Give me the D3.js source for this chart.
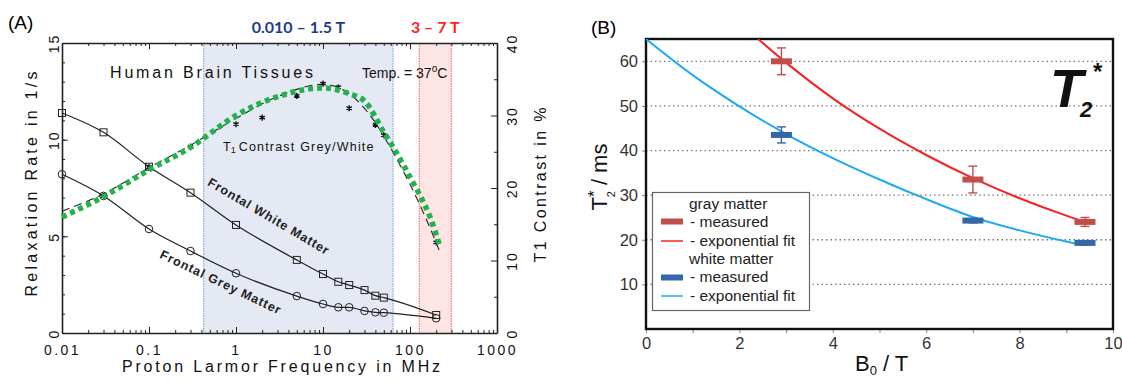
<!DOCTYPE html>
<html><head><meta charset="utf-8">
<script src="https://cdn.jsdelivr.net/npm/d3@7"></script>
<style>body{margin:0;background:#fff} svg{display:block}</style>
</head><body><svg id="c" width="1122" height="381"></svg>
<script>
// ---------- Panel A data ----------
const freqWM = [0.01,0.03,0.1,0.3,1,5,10,15,20,30,40,50,200];
const r1WM   = [11.38,10.38,8.6,7.26,5.59,3.78,3.05,2.65,2.48,2.22,1.93,1.83,0.93];
const freqGM = [0.01,0.03,0.1,0.3,1,5,10,15,20,30,40,50,200];
const r1GM   = [8.21,7.09,5.38,4.24,3.09,1.91,1.5,1.33,1.33,1.14,1.07,1.05,0.76];
const freqContrast = [0.03,0.1,0.3,1,2,5,10,15,20,40,50,200];
const contrastMeasured = [18.9,22.9,25.7,28.8,29.7,32.7,34.4,33.9,31.0,28.7,27.3,12.5];
const freqContrastFit = [0.01,0.03,0.1,0.3,1,3,10,20,40,60,100,150,220];
const contrastFit     = [16.8,19.2,22.8,25.9,29.6,32.6,34.3,33.0,29.0,25.5,20.5,16.0,11.2];
const freqContrastTrend = [0.01,0.03,0.1,0.3,1,3,10,20,30,50,65,100,130,170,220];
const contrastTrend     = [16.0,18.8,22.5,25.6,30.0,32.6,33.8,33.0,32.0,27.7,25.5,21.5,19.0,16.0,12.0];
const bandLowTesla  = [0.010, 1.5];
const bandHighTesla = [3, 7];
const larmorMHzPerTesla = 42.58;
const xTicksA = [0.01,0.1,1,10,100,1000];
const xTickLabelsA = ["0.01","0.1","1","10","100","1000"];
const yTicksA = [0,5,10,15];
const y2TicksA = [0,10,20,30,40];

// ---------- Panel B data ----------
const b0Measured = [2.9, 7.0, 9.4];
const gmMeasured = [60.0, 33.5, 24.0];
const gmError    = [3.0, 3.0, 1.0];
const wmMeasured = [43.5, 24.3, 19.3];
const wmError    = [1.8, 0.5, 0.5];
const b0FitGM = [2.4,3,4,5,6,7,8,9,9.4];
const gmFit   = [65,59.7,51.7,44.9,39.0,33.8,29.3,25.4,24.0];
const b0FitWM = [0,1,2,3,4,5,6,7,8,9,9.35];
const wmFit   = [65,56.9,49.9,43.7,38.3,33.5,29.1,25.1,22.1,19.6,18.8];
const yTicksB = [10,20,30,40,50,60];
const xTicksB = [0,1,2,3,4,5,6,7,8,9,10];

const svg = d3.select("#c");
const FA = "'Liberation Sans', Arial, sans-serif";

// =================== PANEL A ===================
const A = {l:62, r:497, t:43, b:333};
const xA = d3.scaleLog().domain([0.01,1000]).range([A.l, A.r]);
const yA = d3.scaleLinear().domain([0,15]).range([A.b, A.t]);
const yA2 = d3.scaleLinear().domain([0,40]).range([A.b, A.t]);
const gA = svg.append("g");

svg.append("text").attr("x",8).attr("y",29).attr("font-family",FA).attr("font-size",19).text("(A)");

// bands
const lowF = bandLowTesla.map(t => t*larmorMHzPerTesla);
const highF = bandHighTesla.map(t => t*larmorMHzPerTesla);
gA.append("rect").attr("x",xA(lowF[0])).attr("y",A.t).attr("width",xA(lowF[1])-xA(lowF[0])).attr("height",A.b-A.t).attr("fill","#e4e9f3");
gA.append("rect").attr("x",xA(highF[0])).attr("y",A.t).attr("width",xA(highF[1])-xA(highF[0])).attr("height",A.b-A.t).attr("fill","#fde5e6");
[[lowF,"#6d9ad6"],[highF,"#ff5a5a"]].forEach(([f,c]) => f.forEach(v =>
  gA.append("line").attr("x1",xA(v)).attr("x2",xA(v)).attr("y1",A.t).attr("y2",A.b)
    .attr("stroke",c).attr("stroke-width",1).attr("stroke-dasharray","1.5,1")));

svg.append("text").attr("x",(xA(lowF[0])+xA(lowF[1]))/2).attr("y",33).attr("text-anchor","middle")
  .attr("font-family","Lato, 'Liberation Sans', sans-serif").attr("font-weight","bold").attr("font-size",16)
  .attr("fill","#1f3a8a").text("0.010 – 1.5 T");
svg.append("text").attr("x",(xA(highF[0])+xA(highF[1]))/2).attr("y",33).attr("text-anchor","middle")
  .attr("font-family","Lato, 'Liberation Sans', sans-serif").attr("font-weight","bold").attr("font-size",16)
  .attr("fill","#ff1f1f").text("3 – 7 T");

// axes
function styleAxis(g){ g.selectAll("path,line").attr("stroke","#222"); g.select(".domain").attr("stroke-width",1.6); }
const minorLog = [];
for (let d=0.01; d<1000; d*=10) for (let k=2;k<=9;k++) minorLog.push(d*k);

const axB = gA.append("g").attr("transform",`translate(0,${A.b})`)
  .call(d3.axisBottom(xA).tickValues(xTicksA).tickSize(-6).tickSizeOuter(0).tickFormat((d,i)=>xTickLabelsA[i]));
axB.call(styleAxis);
axB.selectAll("text").attr("font-family",FA).attr("font-size",14).attr("fill","#111")
  .attr("y",12).attr("dy","0.71em").style("letter-spacing","2.5px");
gA.append("g").attr("transform",`translate(0,${A.b})`)
  .call(d3.axisBottom(xA).tickValues(minorLog).tickSize(-3).tickFormat("")).call(g=>{g.select(".domain").remove(); g.selectAll("line").attr("stroke","#222");});
const axT = gA.append("g").attr("transform",`translate(0,${A.t})`)
  .call(d3.axisTop(xA).tickValues(xTicksA).tickSize(-6).tickSizeOuter(0).tickFormat(""));
axT.call(styleAxis);
gA.append("g").attr("transform",`translate(0,${A.t})`)
  .call(d3.axisTop(xA).tickValues(minorLog).tickSize(-3).tickFormat("")).call(g=>{g.select(".domain").remove(); g.selectAll("line").attr("stroke","#222");});

const axL = gA.append("g").attr("transform",`translate(${A.l},0)`)
  .call(d3.axisLeft(yA).tickValues(yTicksA).tickSize(-6).tickSizeOuter(0));
axL.call(styleAxis);
axL.selectAll("text").attr("x",null).attr("dy",null).attr("text-anchor","middle")
  .attr("transform","translate(-3,0) rotate(-90)").attr("font-family",FA).attr("font-size",14).attr("fill","#111")
  .style("letter-spacing","2px");
gA.append("g").attr("transform",`translate(${A.l},0)`)
  .call(d3.axisLeft(yA).tickValues(d3.range(1,15)).tickSize(-3).tickFormat("")).call(g=>{g.select(".domain").remove(); g.selectAll("line").attr("stroke","#222");});

const axR = gA.append("g").attr("transform",`translate(${A.r},0)`)
  .call(d3.axisRight(yA2).tickValues(y2TicksA).tickSize(-6).tickSizeOuter(0));
axR.call(styleAxis);
axR.selectAll("text").attr("x",null).attr("dy",null).attr("text-anchor","middle")
  .attr("transform","translate(20,0) rotate(-90)").attr("font-family",FA).attr("font-size",14).attr("fill","#111")
  .style("letter-spacing","2px");
gA.append("g").attr("transform",`translate(${A.r},0)`)
  .call(d3.axisRight(yA2).tickValues([5,15,25,35]).tickSize(-3).tickFormat("")).call(g=>{g.select(".domain").remove(); g.selectAll("line").attr("stroke","#222");});

// axis titles
svg.append("text").attr("x",281).attr("y",372).attr("text-anchor","middle").attr("font-family",FA)
  .attr("font-size",16).attr("fill","#111").attr("textLength",318).attr("lengthAdjust","spacing")
  .text("Proton Larmor Frequency in MHz");
svg.append("text").attr("transform","translate(37,184) rotate(-90)").attr("text-anchor","middle").attr("font-family",FA)
  .attr("font-size",16).attr("fill","#111").attr("textLength",225).attr("lengthAdjust","spacing")
  .text("Relaxation Rate in 1/s");
svg.append("text").attr("transform","translate(546,185) rotate(-90)").attr("text-anchor","middle").attr("font-family",FA)
  .attr("font-size",16).attr("fill","#111").attr("textLength",155).attr("lengthAdjust","spacing")
  .text("T1 Contrast in %");

// in-plot texts
svg.append("text").attr("x",110).attr("y",78).attr("font-family",FA).attr("font-size",16).attr("fill","#111")
  .attr("textLength",203).attr("lengthAdjust","spacing").text("Human Brain Tissues");
const tmp = svg.append("text").attr("x",362).attr("y",78).attr("font-family",FA).attr("font-size",14).attr("fill","#111");
tmp.append("tspan").text("Temp.  =  37");
tmp.append("tspan").attr("font-size",10).attr("dy",-6).text("o");
tmp.append("tspan").attr("dy",6).text("C");
const tc = svg.append("text").attr("x",223).attr("y",151).attr("font-family",FA).attr("font-size",12.5).attr("fill","#111");
tc.append("tspan").text("T");
tc.append("tspan").attr("font-size",9).attr("dy",2).text("1");
tc.append("tspan").attr("dy",-2).attr("dx",3).text("Contrast Grey/White").style("letter-spacing","1.2px");
svg.append("text").attr("transform","translate(268,217) rotate(30.5)").attr("text-anchor","middle")
  .attr("dominant-baseline","middle").attr("font-family",FA).attr("font-size",12.5).attr("font-weight","bold")
  .attr("fill","#222").attr("textLength",138).attr("lengthAdjust","spacing").text("Frontal White Matter");
svg.append("text").attr("transform","translate(220,283) rotate(25.5)").attr("text-anchor","middle")
  .attr("dominant-baseline","middle").attr("font-family",FA).attr("font-size",12.5).attr("font-weight","bold")
  .attr("fill","#222").attr("textLength",132).attr("lengthAdjust","spacing").text("Frontal Grey Matter");

// curves
const lineR1 = d3.line().x(d=>xA(d[0])).y(d=>yA(d[1])).curve(d3.curveMonotoneX);
const lineC = d3.line().x(d=>xA(d[0])).y(d=>yA2(d[1])).curve(d3.curveMonotoneX);
const wm = d3.zip(freqWM, r1WM), gm = d3.zip(freqGM, r1GM);
gA.append("path").attr("d",lineR1(wm)).attr("fill","none").attr("stroke","#222").attr("stroke-width",1.2);
gA.append("path").attr("d",lineR1(gm)).attr("fill","none").attr("stroke","#222").attr("stroke-width",1.2);
gA.append("path").attr("d",lineC(d3.zip(freqContrastFit,contrastFit))).attr("fill","none")
  .attr("stroke","#222").attr("stroke-width",1.1).attr("stroke-dasharray","8,5");
gA.selectAll(".sq").data(wm).join("rect").attr("x",d=>xA(d[0])-3.5).attr("y",d=>yA(d[1])-3.5)
  .attr("width",7).attr("height",7).attr("fill","none").attr("stroke","#222").attr("stroke-width",1);
gA.selectAll(".ci").data(gm).join("circle").attr("cx",d=>xA(d[0])).attr("cy",d=>yA(d[1])).attr("r",3.8)
  .attr("fill","none").attr("stroke","#222").attr("stroke-width",1);
gA.selectAll(".as").data(d3.zip(freqContrast,contrastMeasured)).join("path")
  .attr("transform",d=>`translate(${xA(d[0])},${yA2(d[1])})`)
  .attr("d",d3.symbol(d3.symbolAsterisk,26)).attr("fill","none").attr("stroke","#111").attr("stroke-width",1.4);
gA.append("path").attr("d",lineC(d3.zip(freqContrastTrend,contrastTrend))).attr("fill","none")
  .attr("stroke","#22b24c").attr("stroke-width",5.5).attr("stroke-dasharray","5,4");

// =================== PANEL B ===================
const B = {l:646, r:1113, t:39, b:329};
const xB = d3.scaleLinear().domain([0,10]).range([B.l, B.r]);
const yB = d3.scaleLinear().domain([0,65]).range([B.b, B.t]);
const gB = svg.append("g");
svg.append("text").attr("x",591).attr("y",34).attr("font-family",FA).attr("font-size",19).text("(B)");

gB.selectAll(".grid").data(yTicksB).join("line").attr("x1",B.l).attr("x2",B.r)
  .attr("y1",d=>yB(d)).attr("y2",d=>yB(d)).attr("stroke","#777").attr("stroke-width",1.3).attr("stroke-dasharray","1.5,3");

const axBL = gB.append("g").attr("transform",`translate(${B.l},0)`)
  .call(d3.axisLeft(yB).tickValues(yTicksB).tickSize(4).tickPadding(4).tickSizeOuter(0));
axBL.select(".domain").remove();
axBL.selectAll("line").attr("stroke","#888");
axBL.selectAll("text").attr("font-family",FA).attr("font-size",16.5).attr("fill","#333");
const axBB = gB.append("g").attr("transform",`translate(0,${B.b})`)
  .call(d3.axisBottom(xB).tickValues(xTicksB).tickSize(4).tickPadding(4).tickSizeOuter(0)
    .tickFormat(d => d%2===0 ? d : ""));
axBB.select(".domain").remove();
axBB.selectAll("line").attr("stroke","#888");
axBB.selectAll("text").attr("font-family",FA).attr("font-size",16.5).attr("fill","#333");

gB.append("rect").attr("x",B.l).attr("y",B.t).attr("width",B.r-B.l).attr("height",B.b-B.t)
  .attr("fill","none").attr("stroke","#111").attr("stroke-width",2.4);

svg.append("defs").append("clipPath").attr("id","clipB").append("rect")
  .attr("x",B.l).attr("y",B.t).attr("width",B.r-B.l).attr("height",B.b-B.t);
const lineB = d3.line().x(d=>xB(d[0])).y(d=>yB(d[1])).curve(d3.curveMonotoneX);
const gCurves = gB.append("g").attr("clip-path","url(#clipB)");
gCurves.append("path").attr("d",lineB(d3.zip(b0FitGM,gmFit))).attr("fill","none").attr("stroke","#f42323").attr("stroke-width",2);
gCurves.append("path").attr("d",lineB(d3.zip(b0FitWM,wmFit))).attr("fill","none").attr("stroke","#1eaaf0").attr("stroke-width",2);

function measured(vals, errs, col){
  b0Measured.forEach((b,i)=>{
    const x = xB(b), y = yB(vals[i]), y1 = yB(vals[i]+errs[i]), y2 = yB(vals[i]-errs[i]);
    gB.append("line").attr("x1",x).attr("x2",x).attr("y1",y1).attr("y2",y2).attr("stroke",col).attr("stroke-width",1.4);
    [y1,y2].forEach(yy=>gB.append("line").attr("x1",x-4.5).attr("x2",x+4.5).attr("y1",yy).attr("y2",yy).attr("stroke",col).attr("stroke-width",1.4));
    gB.append("rect").attr("x",x-10.5).attr("y",y-3).attr("width",21).attr("height",6).attr("fill",col);
  });
}
measured(gmMeasured, gmError, "#c24e4b");
measured(wmMeasured, wmError, "#3566a8");

// axis titles B
const xt = svg.append("text").attr("x",855).attr("y",371).attr("font-family",FA).attr("font-size",22).attr("fill","#111");
xt.append("tspan").text("B");
xt.append("tspan").attr("font-size",13).attr("dy",4).text("0");
xt.append("tspan").attr("dy",-4).text(" / T");
const yt = svg.append("text").attr("transform","translate(607,177) rotate(-90)").attr("text-anchor","middle")
  .attr("font-family",FA).attr("font-size",22).attr("fill","#111");
yt.append("tspan").text("T");
yt.append("tspan").attr("font-size",17).attr("dy",-7).text("*");
yt.append("tspan").attr("font-size",11).attr("dx",-7).attr("dy",15).text("2");
yt.append("tspan").attr("dy",-8).text(" / ms");

// big label
const bl = svg.append("text").attr("x",1050).attr("y",107).attr("font-family",FA).attr("font-weight","bold")
  .attr("font-style","italic").attr("fill","#111");
bl.append("tspan").attr("font-size",54).text("T");
bl.append("tspan").attr("x",1080).attr("y",117).attr("font-size",22).text("2");
bl.append("tspan").attr("x",1093).attr("y",80).attr("font-size",24).attr("font-style","normal").text("*");

// legend
const lg = gB.append("g");
lg.append("rect").attr("x",652.5).attr("y",192.5).attr("width",157).attr("height",118)
  .attr("fill","#fff").attr("stroke","#666").attr("stroke-width",1.2);
const legendRows = [
  {t:"gray matter", y:208.5, x:689},
  {t:"- measured", y:226.5, x:690, mark:"bar", col:"#c24e4b", my:221.5},
  {t:"- exponential fit", y:245.5, x:690, mark:"line", col:"#f42323", my:241},
  {t:"white matter", y:263.5, x:689},
  {t:"- measured", y:282, x:690, mark:"bar", col:"#3566a8", my:277.5},
  {t:"- exponential fit", y:300.5, x:690, mark:"line", col:"#1eaaf0", my:296}
];
legendRows.forEach(r=>{
  lg.append("text").attr("x",r.x).attr("y",r.y).attr("font-family",FA).attr("font-size",15.5).attr("fill","#222").text(r.t);
  if (r.mark==="bar") lg.append("rect").attr("x",661).attr("y",r.my-3).attr("width",22).attr("height",6).attr("fill",r.col);
  if (r.mark==="line") lg.append("line").attr("x1",661).attr("x2",683).attr("y1",r.my).attr("y2",r.my).attr("stroke",r.col).attr("stroke-width",1.5);
});
</script></body></html>
